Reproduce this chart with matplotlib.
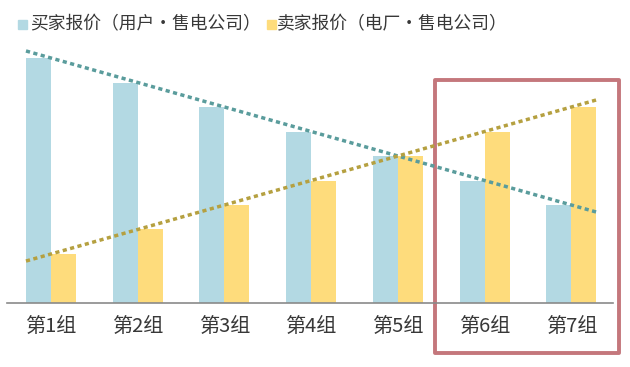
import matplotlib
matplotlib.use("Agg")
import matplotlib.pyplot as plt
import numpy as np
from matplotlib.patches import Rectangle

plt.rcParams['font.family'] = ['Noto Sans CJK SC', 'DejaVu Sans']

groups = ["第1组", "第2组", "第3组", "第4组", "第5组", "第6组", "第7组"]
buyer = [10, 9, 8, 7, 6, 5, 4]
seller = [2, 3, 4, 5, 6, 7, 8]
buyer_label = "买家报价（用户・售电公司）"
seller_label = "卖家报价（电厂・售电公司）"
highlight = [5, 6]

c_buyer = '#b3d9e3'
c_seller = '#fedc7c'
c_buyer_trend = '#5a9c9c'
c_seller_trend = '#b5a040'
c_text = '#383838'

fig = plt.figure(figsize=(6.3, 3.67), dpi=100)
ax = fig.add_axes([0.0111, 0.1744, 0.9619, 0.7343])
x = np.arange(len(groups))
w = 0.288
ax.bar(x - w / 2, buyer, w, color=c_buyer)
ax.bar(x + w / 2, seller, w, color=c_seller)

xt = np.array([x[0] - w, x[-1] + w])
for vals, col in [(buyer, c_buyer_trend), (seller, c_seller_trend)]:
    p = np.polyfit(x, vals, 1)
    ax.plot(xt, np.polyval(p, xt), color=col, lw=2.5,
            linestyle=(0, (1.2, 1.0)), dash_capstyle='butt')

ax.set_xlim(-0.507, 6.48)
ax.set_ylim(0, 11)
for s in ['top', 'left', 'right']:
    ax.spines[s].set_visible(False)
ax.spines['bottom'].set_color('#8a8a8a')
ax.spines['bottom'].set_linewidth(1.2)
ax.set_yticks([])
ax.set_xticks(x, groups, fontsize=14.5, color=c_text)
ax.tick_params(axis='x', length=0, pad=9.5)

# highlight box around last groups
hx0 = highlight[0] - 0.57
hx1 = highlight[-1] + 0.55
rect = Rectangle((hx0, -2.04), hx1 - hx0, 9.1 + 2.04, fill=False,
                 edgecolor='#c4777c', lw=2.8, clip_on=False, joinstyle='round')
ax.add_patch(rect)

# legend
W, H = 630, 367
for mx, tx, col, lab in [(18, 30, c_buyer, buyer_label), (267, 277, c_seller, seller_label)]:
    fig.patches.append(Rectangle((mx / W, 1 - 29 / H), 8.5 / W, 9 / H,
                                 transform=fig.transFigure, color=col))
    fig.text(tx / W, 1 - 24.5 / H, lab, fontsize=12.8, color=c_text, va='center', ha='left')

fig.savefig('out.png', dpi=100)
